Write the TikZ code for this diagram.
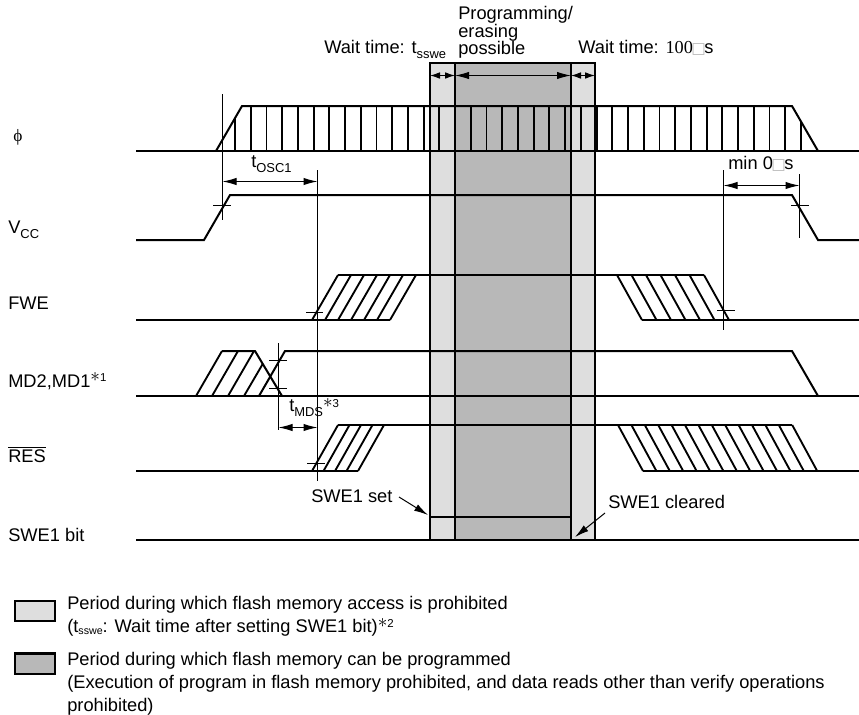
\documentclass[tikz,border=0pt]{standalone}
\usepackage{fontspec}
\setmainfont{Liberation Sans}
\newfontfamily\timserif{Liberation Serif}
\newfontfamily\timsym{DejaVu Sans}
\usetikzlibrary{arrows.meta}
\definecolor{TimLight}{gray}{0.87}
\definecolor{TimMid}{gray}{0.72}
\definecolor{TimBox}{gray}{0.72}
\newcommand{\timsub}[1]{\raisebox{-3.9pt}{\fontsize{9.7}{10}\selectfont #1}}
\newcommand{\timtiny}[1]{\raisebox{-1.5pt}{\fontsize{8}{9}\selectfont #1}}
\newcommand{\timnote}[2][4.2pt]{\smash{\raisebox{#1}{$\ast$\fontsize{8.6}{10}\selectfont #2}}}
\newcommand{\timmu}{{\timsym\color{TimBox}\makebox[8.6pt]{\fontsize{11.5}{10}\selectfont □}}}
\tikzset{
  tim/wave/.style={line width=1.5pt, draw=black},
  tim/hatch/.style={line width=1.4pt, draw=black},
  tim/guide/.style={line width=0.75pt, draw=black},
  tim/edge/.style={line width=1.6pt, draw=black},
  tim/arrow/.style={{Latex[length=10.5pt,width=5.5pt]}-{Latex[length=10.5pt,width=5.5pt]}, line width=0.75pt, draw=black},
  tim/shortarrow/.style={{Latex[length=7.5pt,width=5pt]}-{Latex[length=7.5pt,width=5pt]}, line width=0.75pt, draw=black},
  tim/pointer/.style={-{Latex[length=10.5pt,width=5.5pt]}, line width=0.75pt, draw=black},
  tim/label/.style={anchor=base west, inner sep=0pt, font=\fontsize{13.7}{17}\selectfont},
  tim/text/.style={anchor=north west, inner sep=0pt, align=left, font=\fontsize{13.7}{17.25}\selectfont}
}
\begin{document}
\begin{tikzpicture}[x=0.75pt,y=-0.75pt]
  \useasboundingbox (0,0) rectangle (859,714);
  \fill[TimLight] (430,63) rectangle (455,540);
  \fill[TimMid] (455,63) rectangle (571,540);
  \fill[TimLight] (571,63) rectangle (595,540);

  \draw[tim/wave] (136,151) -- (859,151);
  \draw[tim/wave] (216,151) -- (242,106) -- (792,106) -- (818,151);
  \draw[tim/hatch] (235,119) -- (235,151);
  \foreach \k in {1,...,35}
    \draw[tim/hatch] ({235+15.72*\k},106) -- ({235+15.72*\k},151);
  \draw[tim/hatch] (801,122) -- (801,151);

  \draw[tim/wave] (136,240) -- (204,240) -- (230,195) -- (792,195) -- (818,240) -- (859,240);

  \draw[tim/wave] (136,320) -- (390,320);
  \draw[tim/wave] (338,275) -- (704,275);
  \draw[tim/wave] (642,320) -- (859,320);
  \foreach \k in {0,...,6}
    \draw[tim/hatch] ({312+13*\k},320) -- ++(26,-45);
  \foreach \k in {0,...,6}
    \draw[tim/hatch] ({617+14.5*\k},275) -- ++(25,45);

  \draw[tim/wave] (136,396) -- (859,396);
  \draw[tim/wave] (222,351) -- (255,351) -- (282,396);
  \draw[tim/wave] (259,396) -- (285,351) -- (792,351) -- (818,396);
  \foreach \k in {0,1,2}
    \draw[tim/hatch] ({196+16*\k},396) -- ++(26,-45);
  \draw[tim/hatch] (244,396) -- (262.7,364);

  \draw[tim/wave] (136,471) -- (358,471);
  \draw[tim/wave] (338,425) -- (792,425);
  \draw[tim/wave] (643,471) -- (859,471);
  \foreach \k in {0,...,4}
    \draw[tim/hatch] ({312+11.5*\k},471) -- ++(26,-46);
  \foreach \k in {0,...,13}
    \draw[tim/hatch] ({618+13.4*\k},425) -- ++(25,46);

  \draw[tim/wave] (136,540) -- (859,540);
  \draw[tim/hatch] (430,517) -- (571,517);

  \draw[tim/edge] (430,540) -- (430,63) -- (595,63) -- (595,540);
  \draw[tim/edge] (455,63) -- (455,540);
  \draw[tim/edge] (571,63) -- (571,540);

  \draw[tim/guide] (222.5,94) -- (222.5,220);
  \draw[tim/guide] (213,205.5) -- (231,205.5);
  \draw[tim/guide] (317.5,170) -- (317.5,481);
  \draw[tim/guide] (723.5,170) -- (723.5,330);
  \draw[tim/guide] (799.5,174) -- (799.5,238);
  \draw[tim/guide] (791,205.5) -- (809,205.5);
  \draw[tim/guide] (306,312.5) -- (323,312.5);
  \draw[tim/guide] (717,310.5) -- (735,310.5);
  \draw[tim/guide] (278.5,343) -- (278.5,430);
  \draw[tim/guide] (269,360.5) -- (287,360.5);
  \draw[tim/guide] (269,388.5) -- (287,388.5);
  \draw[tim/guide] (307,463.5) -- (325,463.5);

  \coordinate (oscleft) at (222.5,181.5);
  \coordinate (oscright) at (317.5,181.5);
  \coordinate (minleft) at (723.5,185.5);
  \coordinate (minright) at (799.5,185.5);
  \coordinate (mdsleft) at (278.5,427.5);
  \coordinate (mdsright) at (317.5,427.5);
  \coordinate (waitL) at (430,75.5);
  \coordinate (waitLend) at (455,75.5);
  \coordinate (waitR) at (571,75.5);
  \coordinate (waitRend) at (595,75.5);
  \draw[tim/arrow] (oscleft) -- (oscright);
  \draw[tim/arrow] (minleft) -- (minright);
  \draw[tim/arrow] (mdsleft) -- (mdsright);
  \draw[tim/shortarrow] (waitL) -- (waitLend);
  \draw[tim/arrow] (waitLend) -- (waitR);
  \draw[tim/shortarrow] (waitR) -- (waitRend);

  \node[tim/label] (phi) at (13,141) {\timserif\fontsize{13}{13}\selectfont ϕ};
  \node[tim/label] (vcc) at (8,233) {V\timsub{CC}};
  \node[tim/label] (fwe) at (8,309) {FWE};
  \node[tim/label] (mode) at (8,387) {MD2,MD1\timnote{1}};
  \node[tim/label] (res) at (8,462) {\rule[13.3pt]{0pt}{0pt}$\overline{\mbox{RES}}$};
  \node[tim/label] (swebit) at (8,541) {SWE1 bit};

  \node[tim/label] (waitA) at (324,53) {Wait time: t\timsub{sswe}};
  \node[tim/label] (prog) at (458,19) {Programming/};
  \node[tim/label] (eras) at (458,37) {erasing};
  \node[tim/label] (poss) at (458,54) {possible};
  \node[tim/label] (waitB) at (578,53) {Wait time: {\timserif 100}\timmu s};
  \node[tim/label] (osc) at (251,167) {t\timsub{OSC1}};
  \node[tim/label] (minzero) at (728,169) {min 0\timmu s};
  \node[tim/label] (mds) at (289,411) {t\timsub{MDS}\timnote[2.4pt]{3}};
  \node[tim/label] (sweset) at (311,502) {SWE1 set};
  \node[tim/label] (swecl) at (608,508) {SWE1 cleared};

  \coordinate (setend) at (428,515);
  \coordinate (setfrom) at (399,497);
  \coordinate (clrend) at (575,537);
  \coordinate (clrfrom) at (605,513);
  \draw[tim/pointer] (setfrom) -- (setend);
  \draw[tim/pointer] (clrfrom) -- (clrend);

  \draw[tim/edge,fill=TimLight] (15,601) rectangle (55,621);
  \draw[tim/edge,fill=TimMid] (15,653.5) rectangle (55,674);
  \node[tim/text] (waitnote) at (67,596) {Period during which flash memory access is prohibited\\(t\timtiny{sswe}: Wait time after setting SWE1 bit)\timnote[3.4pt]{2}};
  \node[tim/text] (prognote) at (67,652) {Period during which flash memory can be programmed\\(Execution of program in flash memory prohibited, and data reads other than verify operations\\prohibited)};
\end{tikzpicture}
\end{document}
